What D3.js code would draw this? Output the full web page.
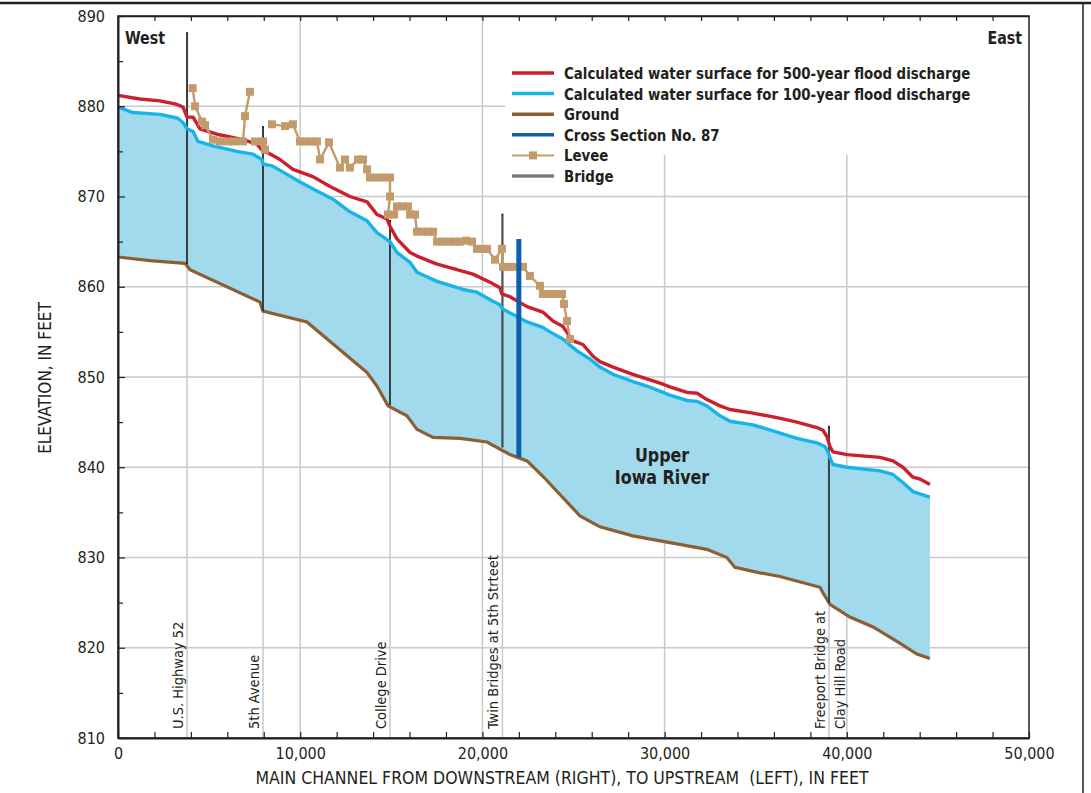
<!DOCTYPE html>
<html>
<head>
<meta charset="utf-8">
<script src="https://cdn.jsdelivr.net/npm/d3@7"></script>
<style>
  body { margin: 0; background: #fff; }
  svg text { font-family: "Liberation Sans Narrow", "DejaVu Sans Condensed", "Roboto", sans-serif; fill: #231f20; }
</style>
</head>
<body>
<svg id="chart" width="1091" height="793"></svg>
<script>
// Water surface, 500-year flood: [distance ft, elevation ft]
const flood500 = [
  [0, 881.2], [1200, 880.8], [2300, 880.6], [3240, 880.2], [3570, 879.9], [3790, 878.8],
  [4120, 878.8], [4500, 877.5], [5430, 876.9], [6860, 876.3], [7630, 875.8], [7960, 875.0],
  [8180, 874.9], [8890, 874.1], [9600, 873.0], [10700, 872.2], [11640, 871.1], [12730, 870.0],
  [13670, 869.4], [14210, 868.0], [14760, 867.5], [14930, 866.7], [15310, 865.3], [16030, 863.8],
  [16410, 863.4], [17510, 862.5], [18600, 861.9], [19480, 861.4], [20420, 860.5], [20960, 859.9],
  [21070, 859.2], [21510, 858.9], [22450, 857.8], [23320, 857.2], [23870, 856.2], [24420, 855.6],
  [24970, 854.0], [25520, 853.6], [26070, 852.3], [26450, 851.7], [27170, 851.1], [28260, 850.3],
  [29030, 849.8], [29910, 849.2], [30290, 848.9], [31230, 848.3], [31780, 848.2], [32320, 847.5],
  [33040, 846.8], [33590, 846.4], [34850, 846.0], [36170, 845.5], [37260, 845.0], [38360, 844.4],
  [38690, 844.1], [38910, 843.4], [39075, 842.3], [39240, 841.7], [40010, 841.4], [41820, 841.1],
  [42530, 840.7], [43080, 840.0], [43630, 838.9], [44010, 838.7], [44560, 838.1]
];

// Water surface, 100-year flood
const flood100 = [
  [0, 879.9], [820, 879.3], [2300, 879.1], [3240, 878.7], [3570, 878.2], [3790, 877.5],
  [4120, 877.2], [4390, 876.1], [5210, 875.6], [6530, 875.0], [7410, 874.7], [7900, 874.1],
  [7960, 873.6], [8450, 873.4], [9060, 872.7], [9990, 871.6], [10920, 870.6], [11800, 869.7],
  [12730, 868.3], [13670, 867.3], [14210, 866.0], [14930, 865.0], [15310, 863.8], [16030, 862.7],
  [16410, 861.6], [17510, 860.6], [18930, 859.7], [19700, 859.4], [20580, 858.4], [20960, 858.0],
  [21130, 857.5], [21900, 856.7], [22450, 856.1], [23320, 855.5], [23710, 855.0], [24420, 854.2],
  [25190, 852.9], [25900, 852.0], [26450, 851.1], [27170, 850.3], [28260, 849.5], [29030, 849.0],
  [29910, 848.3], [30290, 848.0], [31230, 847.4], [31780, 847.3], [32320, 846.8], [33040, 845.7],
  [33590, 845.1], [34850, 844.7], [36170, 843.9], [37260, 843.2], [38360, 842.7], [38800, 842.3],
  [38970, 841.7], [39075, 841.1], [39240, 840.3], [40010, 840.0], [41820, 839.6], [42530, 839.2],
  [43080, 838.3], [43630, 837.3], [44560, 836.7]
];

// Ground (channel bottom)
const ground = [
  [0, 863.3], [1760, 862.9], [3680, 862.6], [3950, 861.9], [7790, 858.3], [7960, 857.3],
  [10370, 856.1], [13670, 850.5], [14210, 849.0], [14820, 846.8], [15860, 845.7], [16410, 844.2],
  [17290, 843.3], [18770, 843.2], [20250, 842.8], [21510, 841.4], [22450, 840.7], [23320, 839.0],
  [25360, 834.6], [26450, 833.4], [28260, 832.4], [32320, 830.9], [33420, 830.0], [33860, 828.9],
  [35230, 828.3], [36330, 827.9], [38530, 826.7], [38690, 826.1], [39075, 824.8], [40170, 823.4],
  [41440, 822.3], [42750, 820.7], [43850, 819.3], [44560, 818.8]
];

// Levee profile (three pieces)
const leveeA = [
  [4100, 882.0], [4230, 880.0], [4610, 878.3], [4780, 877.9], [5210, 876.3], [5600, 876.1],
  [6040, 876.1], [6420, 876.1], [6860, 876.1], [6970, 878.9], [7240, 881.6]
];
const leveeB = [
  [7520, 876.1], [7960, 876.1], [8070, 875.2]
];
const leveeC = [
  [8450, 878.0], [9170, 877.8], [9600, 878.0], [9990, 876.1], [10320, 876.1], [10650, 876.1],
  [10920, 876.1], [11090, 874.1], [11580, 876.0], [12180, 873.2], [12460, 874.1], [12730, 873.2],
  [13170, 874.1], [13450, 874.1], [13670, 873.0], [13830, 872.1], [14160, 872.1], [14540, 872.1],
  [14930, 872.1], [14930, 870.0], [14820, 868.0], [15150, 868.0], [15310, 868.9], [15590, 868.9],
  [15920, 868.9], [16030, 868.0], [16300, 868.0], [16410, 866.1], [16740, 866.1], [17010, 866.1],
  [17290, 866.1], [17510, 865.0], [17840, 865.0], [18170, 865.0], [18490, 865.0], [18770, 865.0],
  [19100, 865.1], [19430, 865.0], [19700, 864.2], [20030, 864.2], [20250, 864.2], [20690, 863.0],
  [21070, 864.2], [21130, 862.2], [21510, 862.2], [21900, 862.2], [22230, 862.2], [22610, 861.2],
  [23160, 860.1], [23320, 859.2], [23650, 859.2], [24040, 859.2], [24370, 859.2], [24480, 858.1],
  [24640, 856.2], [24810, 854.2]
];

// Bridges
const bridgeNames = [["U.S. Highway 52"], ["5th Avenue"], ["College Drive"],
  ["Twin Bridges at 5th Strteet"], ["Freeport Bridge at", "Clay Hill Road"]];
const bridgeX = [3790, 7960, 14930, 21100, 39020];
const bridgeTop = [888.2, 877.8, 867.4, 868.1, 844.6];
const bridgeBottom = [862.5, 857.3, 846.9, 842.2, 825.0];

// Cross section No. 87
const crossX = 22000;
const crossTop = 865.3;
const crossBottom = 841.1;

const yTicks = [810, 820, 830, 840, 850, 860, 870, 880, 890];
const xTicks = [0, 10000, 20000, 30000, 40000, 50000];

const legendLabels = [
  'Calculated water surface for 500-year flood discharge',
  'Calculated water surface for 100-year flood discharge',
  'Ground',
  'Cross Section No. 87',
  'Levee',
  'Bridge'
];

const colors = {
  red: '#cc1f2d', cyan: '#18b4e9', fill: '#a1daed', ground: '#8b5e34',
  cross: '#0d5eac', levee: '#c39a6b', bridge: '#262626', grid: '#c9c9c9'
};

const svg = d3.select('#chart');

const x = d3.scaleLinear().domain([0, 50000]).range([118, 1029]);
const y = d3.scaleLinear().domain([810, 890]).range([738, 16]);
const line = d3.line().x(d => x(d[0])).y(d => y(d[1]));

// page frame
svg.append('line').attr('x1', 0).attr('x2', 1091).attr('y1', 3).attr('y2', 3)
  .attr('stroke', '#231f20').attr('stroke-width', 2.5);
svg.append('line').attr('x1', 1083).attr('x2', 1083).attr('y1', 3).attr('y2', 793)
  .attr('stroke', '#231f20').attr('stroke-width', 1.5);

// gridlines
svg.append('g').selectAll('line')
  .data(yTicks.slice(1, -1))
  .join('line')
  .attr('x1', x(0)).attr('x2', x(50000))
  .attr('y1', d => y(d)).attr('y2', d => y(d))
  .attr('stroke', colors.grid).attr('stroke-width', 1.5);

svg.append('g').selectAll('line')
  .data(xTicks.slice(1, -1))
  .join('line')
  .attr('x1', d => x(d)).attr('x2', d => x(d))
  .attr('y1', y(890)).attr('y2', y(810))
  .attr('stroke', colors.grid).attr('stroke-width', 1.5);

// bridge guide lines below ground
svg.append('g').selectAll('line')
  .data(bridgeX)
  .join('line')
  .attr('x1', d => x(d)).attr('x2', d => x(d))
  .attr('y1', (d, i) => y(bridgeBottom[i])).attr('y2', y(810))
  .attr('stroke', colors.grid).attr('stroke-width', 1.5);

// water area between 100-year surface and ground
const area = flood100.concat(ground.slice().reverse());
svg.append('path')
  .attr('d', line(area) + 'Z')
  .attr('fill', colors.fill);

svg.append('path').datum(ground).attr('d', line)
  .attr('fill', 'none').attr('stroke', colors.ground).attr('stroke-width', 3.2);

// bridges
const bridges = svg.append('g');
bridges.selectAll('line.outer')
  .data(bridgeX)
  .join('line')
  .attr('class', 'outer')
  .attr('x1', d => x(d)).attr('x2', d => x(d))
  .attr('y1', (d, i) => y(bridgeTop[i])).attr('y2', (d, i) => y(bridgeBottom[i]))
  .attr('stroke', colors.bridge).attr('stroke-width', 2);
bridges.selectAll('line.inner')
  .data(bridgeX)
  .join('line')
  .attr('class', 'inner')
  .attr('x1', d => x(d)).attr('x2', d => x(d))
  .attr('y1', (d, i) => y(bridgeTop[i]) + 2).attr('y2', (d, i) => y(bridgeBottom[i]) - 1)
  .attr('stroke', '#5f6d77').attr('stroke-width', 0.7);

svg.append('path').datum(flood100).attr('d', line)
  .attr('fill', 'none').attr('stroke', colors.cyan).attr('stroke-width', 3.4)
  .attr('stroke-linejoin', 'round');
svg.append('path').datum(flood500).attr('d', line)
  .attr('fill', 'none').attr('stroke', colors.red).attr('stroke-width', 3.4)
  .attr('stroke-linejoin', 'round');

// levee
[leveeA, leveeB, leveeC].forEach(function (seg) {
  const g = svg.append('g');
  g.append('path').datum(seg).attr('d', line)
    .attr('fill', 'none').attr('stroke', colors.levee).attr('stroke-width', 2.4);
  g.selectAll('rect').data(seg).join('rect')
    .attr('x', d => x(d[0]) - 4).attr('y', d => y(d[1]) - 4)
    .attr('width', 8).attr('height', 8)
    .attr('fill', colors.levee);
});

// cross section
svg.append('line')
  .attr('x1', x(crossX)).attr('x2', x(crossX))
  .attr('y1', y(crossTop)).attr('y2', y(crossBottom))
  .attr('stroke', colors.cross).attr('stroke-width', 5);

// legend box (hides grid)
svg.append('rect').attr('x', 505).attr('y', 17).attr('width', 523).attr('height', 138)
  .attr('fill', '#fff');

// plot frame
svg.append('rect')
  .attr('x', x(0)).attr('y', y(890))
  .attr('width', x(50000) - x(0)).attr('height', y(810) - y(890))
  .attr('fill', 'none').attr('stroke', '#231f20').attr('stroke-width', 1.5);

// axes
const yAxis = d3.axisLeft(y)
  .tickValues(d3.range(810, 891, 5))
  .tickSizeInner(-5).tickSizeOuter(0).tickPadding(13)
  .tickFormat(d => d % 10 === 0 ? d : '');
const gy = svg.append('g').attr('transform', 'translate(' + x(0) + ',0)').call(yAxis);
gy.selectAll('.tick line').attr('x2', d => d % 10 === 0 ? 7 : 5);

const xAxis = d3.axisBottom(x)
  .tickValues(d3.range(0, 50001, 2000))
  .tickSizeInner(-6).tickSizeOuter(0).tickPadding(10)
  .tickFormat(d => d % 10000 === 0 ? d3.format(',')(d) : '');
const gx = svg.append('g').attr('transform', 'translate(0,' + y(810) + ')').call(xAxis);

const xTop = d3.axisTop(x)
  .tickValues(d3.range(2000, 50000, 2000))
  .tickSizeInner(-5).tickSizeOuter(0).tickFormat('');
const gt = svg.append('g').attr('transform', 'translate(0,' + y(890) + ')').call(xTop);

[gx, gy, gt].forEach(function (g) {
  g.select('.domain').attr('stroke', '#231f20').attr('stroke-width', 2);
  g.selectAll('.tick line').attr('stroke', '#231f20').attr('stroke-width', 1.2);
  g.selectAll('.tick text').attr('font-size', 16).attr('fill', '#231f20')
    .style('font-family', '"Liberation Sans Narrow", "DejaVu Sans Condensed", sans-serif');
});
gt.select('.domain').attr('stroke-width', 1.5);

// axis titles
svg.append('text')
  .attr('x', 562).attr('y', 784)
  .attr('text-anchor', 'middle').attr('font-size', 17.5)
  .text('MAIN CHANNEL FROM DOWNSTREAM (RIGHT), TO UPSTREAM\u00a0\u00a0(LEFT), IN FEET');
svg.append('text')
  .attr('transform', 'translate(51,' + 378 + ') rotate(-90)')
  .attr('text-anchor', 'middle').attr('font-size', 17)
  .text('ELEVATION, IN FEET');

// bridge labels
bridgeNames.forEach(function (lines, i) {
  lines.forEach(function (t, j) {
    const off = lines.length === 1 ? -4 : (j === 0 ? -4 : 16);
    svg.append('text')
      .attr('transform', 'translate(' + (x(bridgeX[i]) + off) + ',' + 729 + ') rotate(-90)')
      .attr('font-size', 14.5)
      .text(t);
  });
});

// corner and river labels
svg.append('text').attr('transform', 'translate(125,44) scale(0.93,1)')
  .attr('font-size', 17).attr('font-weight', 'bold').text('West');
svg.append('text').attr('transform', 'translate(1022,44) scale(0.93,1)').attr('text-anchor', 'end')
  .attr('font-size', 17).attr('font-weight', 'bold').text('East');
svg.append('text').attr('transform', 'translate(662,462) scale(0.93,1)').attr('text-anchor', 'middle')
  .attr('font-size', 19).attr('font-weight', 'bold').text('Upper');
svg.append('text').attr('transform', 'translate(662,484) scale(0.93,1)').attr('text-anchor', 'middle')
  .attr('font-size', 19).attr('font-weight', 'bold').text('Iowa River');

// legend
const legend = svg.append('g').attr('transform', 'translate(512,73)');
const legendRow = legend.selectAll('g').data(legendLabels).join('g')
  .attr('transform', (d, i) => 'translate(0,' + (i * 20.6) + ')');
const legendColors = [colors.red, colors.cyan, colors.ground, colors.cross, colors.levee, '#7a7a7a'];
legendRow.append('line')
  .attr('x1', 0).attr('x2', 42).attr('y1', 0).attr('y2', 0)
  .attr('stroke', (d, i) => legendColors[i])
  .attr('stroke-width', (d, i) => i === 4 ? 2 : 3.5);
legendRow.filter((d, i) => i === 4).append('rect')
  .attr('x', 17).attr('y', -4).attr('width', 8).attr('height', 8).attr('fill', colors.levee);
legendRow.append('text')
  .attr('transform', 'translate(52,6) scale(0.9,1)')
  .attr('font-size', 16.5).attr('font-weight', 'bold')
  .text(d => d);
</script>
</body>
</html>
